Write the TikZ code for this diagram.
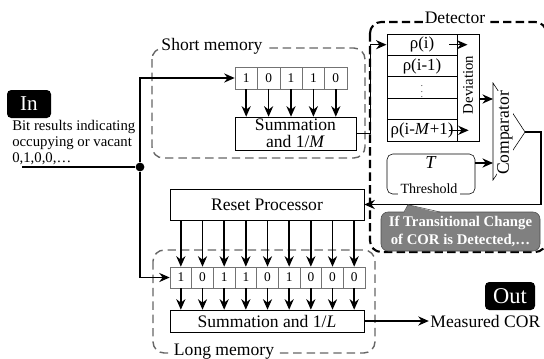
\documentclass[tikz,border=0pt]{standalone}
\usepackage{fontspec}
\setmainfont{Liberation Serif}
\usetikzlibrary{arrows.meta}

\begin{document}
\begin{tikzpicture}[
	>={Stealth[length=7.5pt,width=6.5pt]},
	conn/.style={ ->, line width=1.1pt },
	bitcell/.style={ draw=black!55, thin, minimum width=0.56cm, minimum height=0.55cm, inner sep=0pt, font=\fontsize{9.5}{9.5}\selectfont },
	sumbox/.style={ draw, thin, align=center, inner sep=0pt, font=\fontsize{12.5}{12}\selectfont },
	membox/.style={ draw=black!60, line width=1pt, dash pattern=on 6pt off 3.5pt, rounded corners=8pt },
	detbox/.style={ draw, line width=1.5pt, dash pattern=on 6pt off 3pt, rounded corners=8pt },
	title/.style={ fill=white, inner sep=1.5pt, font=\fontsize{12.5}{14}\selectfont },
	tag/.style={ fill=black, text=white, rounded corners=3pt, inner sep=0pt },
	rhorow/.style={ draw, line width=0.7pt, minimum width=1.75cm, minimum height=0.535cm, inner sep=0pt, font=\fontsize{12}{12}\selectfont }
]
	\useasboundingbox (0,0) rectangle (13.6,-8.95);

	\draw[membox] (3.8,-1.2) rectangle (9.125,-3.95);
	\node at (5.3,-1.15) (shortlbl) [title] {Short memory};
	\foreach \b [count=\i] in {1,0,1,1,0}
		\node at ({5.875+0.56*\i-0.28},-1.95) (s\i) [bitcell] {\b};
	\node at (7.3875,-3.3375) (sumM) [sumbox, minimum width=3.025cm, minimum height=0.825cm] {Summation\\and 1/\textit{M}};
	\foreach \i in {1,...,5}
		\draw[conn] (s\i) -- (s\i |- sumM.north);

	\draw[membox] (3.825,-6.25) rectangle (9.375,-8.825);
	\node at (5.6,-8.8) (longlbl) [title] {Long memory};
	\node at (6.675,-5.1125) (reset) [sumbox, minimum width=4.85cm, minimum height=0.775cm] {Reset Processor};
	\foreach \b [count=\i] in {1,0,1,1,0,1,0,0,0}
		\node at ({4.25+0.5417*\i-0.2708},-6.9375) (l\i) [bitcell, minimum width=0.5417cm, minimum height=0.525cm] {\b};
	\node at (6.675,-8.025) (sumL) [sumbox, minimum width=4.85cm, minimum height=0.55cm] {Summation and 1/\textit{L}};
	\foreach \i in {1,...,9} {
		\draw[conn] (l\i |- reset.south) -- (l\i);
		\draw[conn] (l\i) -- (l\i |- sumL.north);
	}

	\node at (0.725,-2.6) (in) [tag, minimum width=1.1cm, minimum height=0.7cm, font=\fontsize{15}{15}\selectfont] {In};
	\node at (0.3,-3.0) (bits) [anchor=north west, align=left, inner sep=0pt, font=\fontsize{10.5}{11.4}\selectfont] {Bit results indicating\\occupying or vacant\\0,1,0,0,\dots};
	\coordinate (start) at (0.55,-4.175);
	\node at (3.5,-4.175) (jn) [circle, fill, inner sep=0pt, minimum size=0.22cm] {};
	\draw[line width=1.1pt] (start) -- (jn);
	\draw[conn] (jn) |- (s1.west);
	\draw[conn] (jn) |- (l1.west);

	\draw[detbox] (9.25,-0.55) rectangle (13.66,-6.3);
	\node at (11.375,-0.45) (detlbl) [title] {Detector};
	\foreach \t [count=\i] in {ρ(i), ρ(i-1), {\fontsize{6}{6}\selectfont$\vdots$}, {}, {ρ(i-\textit{M}+1)}}
		\node at (10.55,{-0.85-0.535*\i+0.2675}) (r\i) [rhorow] {\t};
	\node at (11.7,-2.1875) (dev) [draw, thin, minimum width=0.55cm, minimum height=2.675cm, inner sep=0pt] {};
	\node at (11.7,-2.125) (devtxt) [rotate=90, font=\fontsize{10.5}{12}\selectfont] {Deviation};
	\draw[conn] ([xshift=-0.2cm]r1.east) -- ++(0.45,0);
	\draw[conn] ([xshift=-0.22cm]r5.east) -- ++(0.5,0);
	\draw[conn] (sumM.east) -- ++(0.35,0) |- (r1.west);

	\coordinate (ca) at (12.325,-2.075);
	\coordinate (cb) at (12.325,-4.5);
	\coordinate (cout) at (13.125,-3.3);
	\coordinate (cin1) at (12.325,-2.475);
	\coordinate (cin2) at (12.325,-4.075);
	\draw[thin] (ca) -- (cout) -- (cb) -- cycle;
	\node at (12.625,-3.325) (cmp) [rotate=90, fill=white, inner sep=0pt, font=\fontsize{12.5}{14}\selectfont] {Comparator};
	\draw[conn] (dev.east |- cin1) -- (cin1);

	\node at (10.775,-4.35) (thr) [draw, thin, rounded corners=4pt, minimum width=2.2cm, minimum height=1.0cm] {};
	\node at (10.775,-4.075) (tval) [font=\fontsize{13}{14}\selectfont] {\textit{T}};
	\node at (10.725,-4.72) (tlbl) [fill=white, inner sep=1.5pt, font=\fontsize{10}{12}\selectfont] {Threshold};
	\draw[conn] (thr.east |- cin2) -- (cin2);
	\draw[conn] (cout) -- ++(0.4,0) |- (reset.east);

	\node at (11.5125,-5.7875) (note) [draw=black!70, fill=black!50, rounded corners=5pt, minimum width=3.975cm, minimum height=0.975cm, text=white, font=\bfseries\fontsize{10.5}{12.8}\selectfont, align=center, inner sep=0pt] {If Transitional Change\\of COR is Detected,\dots};
	\fill[black!50] (10.1,-5.33) -- (10.2,-5.12) -- (11.0,-5.33) -- cycle;
	\draw[black!70] (10.1,-5.3) -- (10.2,-5.12) -- (11.0,-5.3);

	\node at (12.75,-7.4) (out) [tag, minimum width=1.25cm, minimum height=0.7cm, font=\fontsize{16}{16}\selectfont] {Out};
	\node at (10.72,-8.025) (meas) [anchor=west, inner sep=1pt, font=\fontsize{12.5}{14}\selectfont] {Measured COR};
	\draw[conn] (sumL.east) -- (meas.west);
\end{tikzpicture}
\end{document}
